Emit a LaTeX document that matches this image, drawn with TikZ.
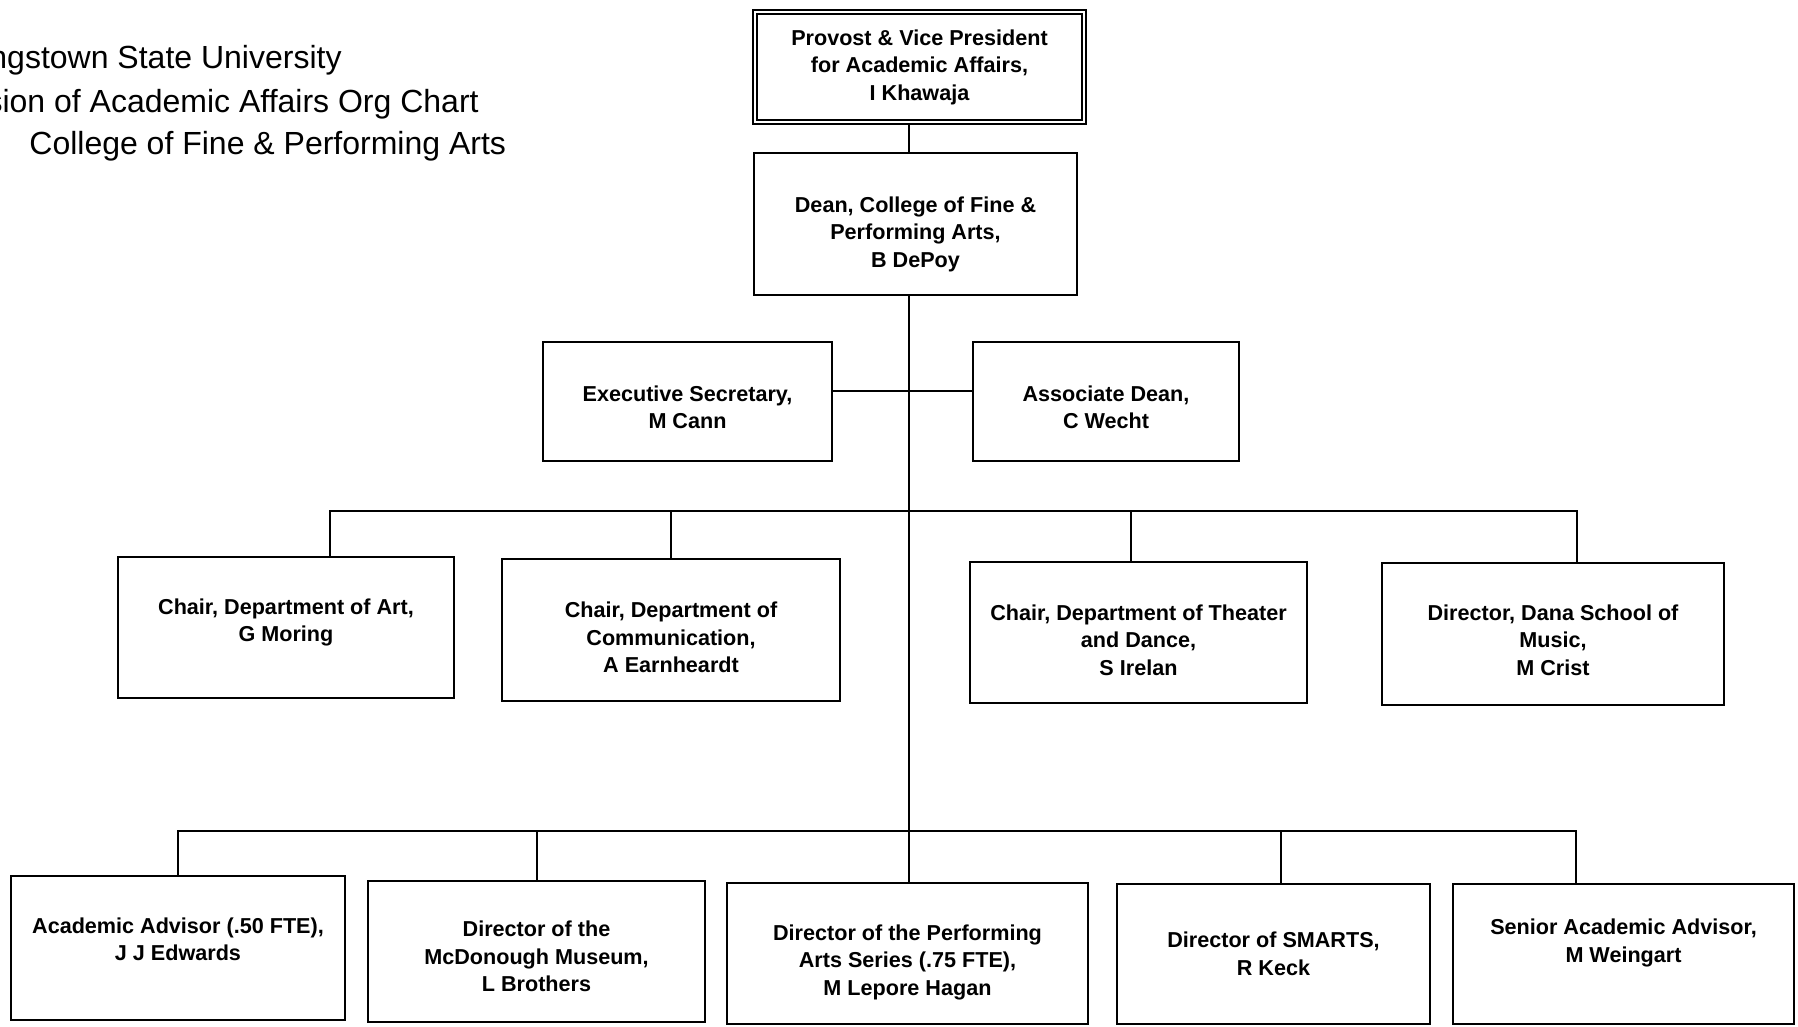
\documentclass[tikz,border=0pt]{standalone}
\usepackage{fontspec}
\setmainfont{Liberation Sans}
\usepackage{tikz}
\usetikzlibrary{positioning}
\tikzset{orgbox/.style={draw, line width=1pt, align=center, inner sep=2pt,
    font=\bfseries\fontsize{10.8}{13.75}\selectfont},
  topbox/.style={orgbox, double, double distance=1.2pt, line width=0.8pt},
  link/.style={line width=1pt},
  heading/.style={font=\fontsize{16}{21.5}\selectfont, inner sep=0pt}}

\begin{document}
\begin{tikzpicture}[x=0.5pt, y=-0.5pt]
    \useasboundingbox (0,0) rectangle (1798,1027);
    % title
    \node[heading, anchor=base east] (t1) at (342,69) {ngstown State University};
    \node[heading, anchor=base east] (t2) at (479,113) {sion of Academic Affairs Org Chart};
    \node[heading, anchor=base west] (t3) at (29,155) {College of Fine \& Performing Arts};
    % boxes
    \node[topbox, minimum width=164.5pt, minimum height=55pt] (prov) at (919.5,67)
        {Provost \& Vice President\\for Academic Affairs,\\I Khawaja};
    \node[orgbox, minimum width=161.5pt, minimum height=71pt, text height=45.4pt] (dean) at (915.5,224)
        {Dean, College of Fine \&\\Performing Arts,\\B DePoy};
    \node[orgbox, minimum width=144.5pt, minimum height=59.5pt, text height=27.6pt] (exec) at (687.5,401.5)
        {Executive Secretary,\\M Cann};
    \node[orgbox, minimum width=133pt, minimum height=59.5pt, text height=27.6pt] (assoc) at (1106,401.5)
        {Associate Dean,\\C Wecht};
    \node[orgbox, minimum width=168pt, minimum height=70.5pt, text height=16.6pt] (art) at (286,627.5)
        {Chair, Department of Art,\\G Moring};
    \node[orgbox, minimum width=169pt, minimum height=71pt, text height=42.9pt] (comm) at (671,630)
        {Chair, Department of\\Communication,\\A Earnheardt};
    \node[orgbox, minimum width=168.5pt, minimum height=70.5pt, text height=42.9pt] (theat) at (1138.5,632.5)
        {Chair, Department of Theater\\and Dance,\\S Irelan};
    \node[orgbox, minimum width=171pt, minimum height=71pt, text height=41.4pt] (music) at (1553,634)
        {Director, Dana School of\\Music,\\M Crist};
    \node[orgbox, minimum width=167pt, minimum height=72pt, text height=13pt] (aa) at (178,948)
        {Academic Advisor (.50 FTE),\\J J Edwards};
    \node[orgbox, minimum width=168.5pt, minimum height=70.5pt, text height=40.4pt] (mcd) at (536.5,951.5)
        {Director of the\\McDonough Museum,\\L Brothers};
    \node[orgbox, minimum width=180.5pt, minimum height=70.5pt, text height=44pt] (perf) at (907.5,953.5)
        {Director of the Performing\\Arts Series (.75 FTE),\\M Lepore Hagan};
    \node[orgbox, minimum width=156.5pt, minimum height=70pt] (smarts) at (1273.5,954)
        {Director of SMARTS,\\R Keck};
    \node[orgbox, minimum width=170.5pt, minimum height=70pt, text height=10.6pt] (senior) at (1623.5,954)
        {Senior Academic Advisor,\\M Weingart};
    % connectors
    \coordinate (trunk) at (909,0);
    \coordinate (busA) at (909,511);
    \coordinate (busB) at (909,831);
    \draw[link] (prov.south -| trunk) -- (dean.north -| trunk);
    \draw[link] (dean.south -| trunk) -- (perf.north -| trunk);
    \draw[link] ([yshift=5.5pt]exec.east) -- ([yshift=5.5pt]assoc.west);
    \draw[link] ([xshift=22pt]art.north) |- (busA) -| ([xshift=12pt]music.north);
    \draw[link] (comm.north) -- (comm.north |- busA);
    \draw[link] ([xshift=-3.75pt]theat.north) -- ([xshift=-3.75pt]theat.north |- busA);
    \draw[link] (aa.north) |- (busB) -| ([xshift=-23.75pt]senior.north);
    \draw[link] (mcd.north) -- (mcd.north |- busB);
    \draw[link] ([xshift=3.75pt]smarts.north) -- ([xshift=3.75pt]smarts.north |- busB);
\end{tikzpicture}
\end{document}
